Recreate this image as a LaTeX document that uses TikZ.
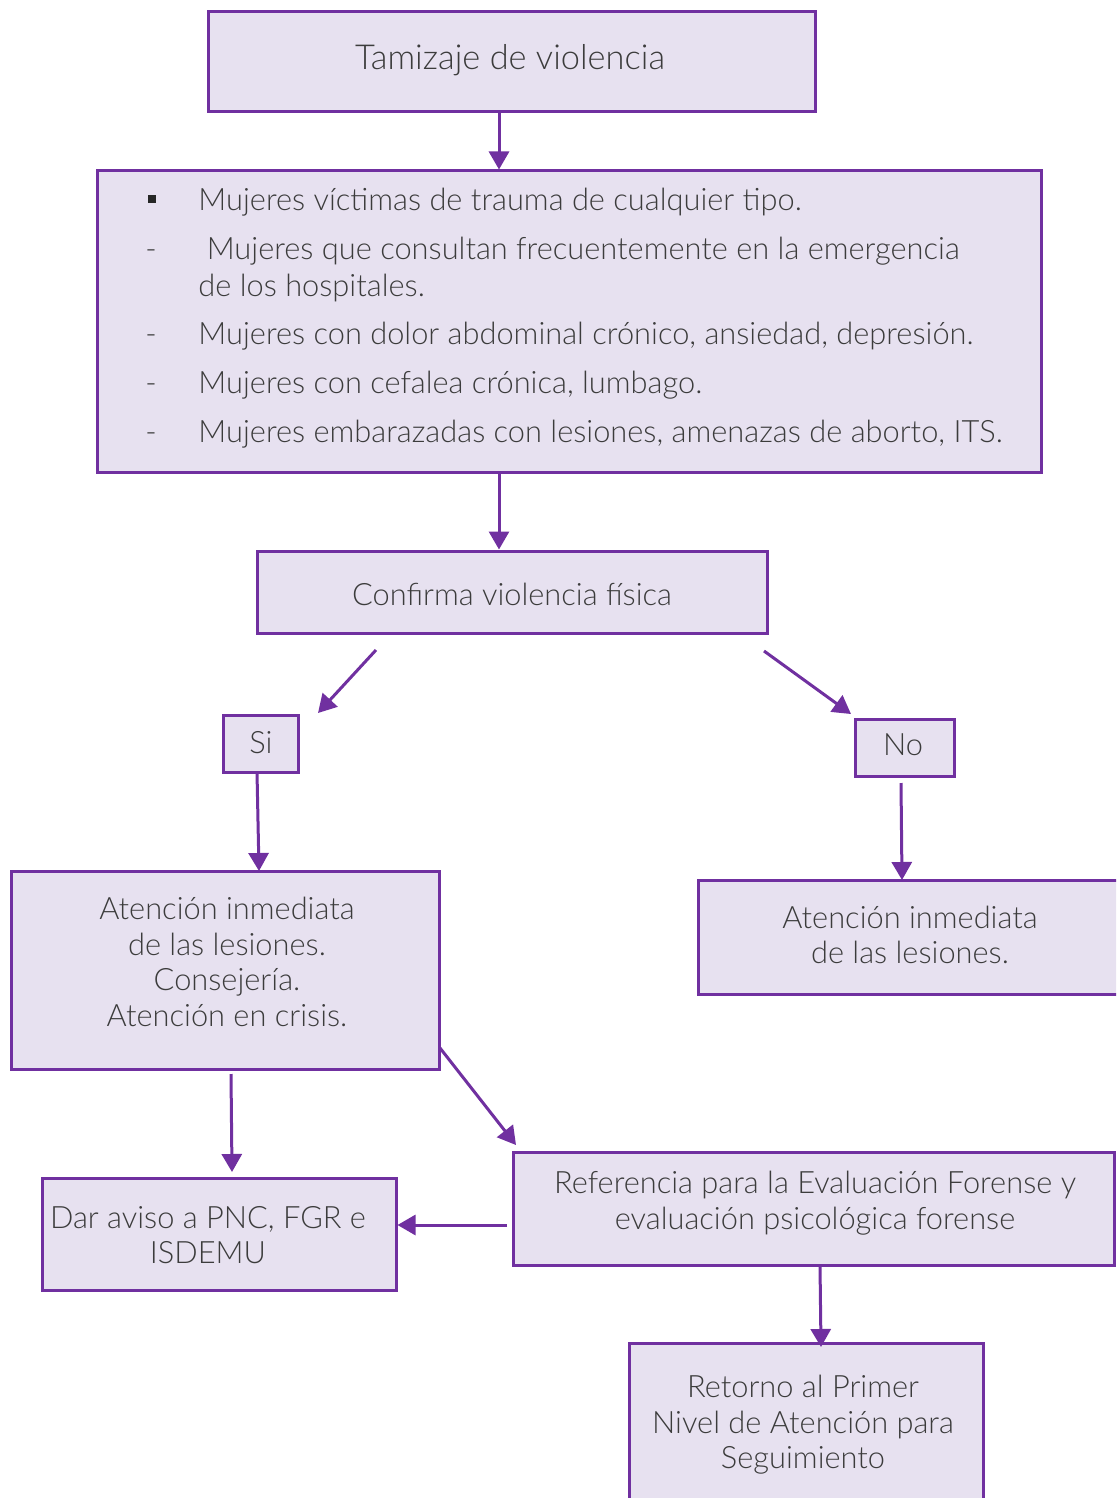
\documentclass[tikz,border=0pt]{standalone}
\usepackage{fontspec}
\setmainfont{Lato}[UprightFont={* Light}]
\usetikzlibrary{arrows.meta}
\definecolor{vio}{HTML}{7030A0}
\definecolor{lav}{HTML}{E7E1F0}
\definecolor{ink}{HTML}{3C3C3C}
\begin{document}
\begin{tikzpicture}[x=0.5pt,y=-0.5pt,
  box/.style={draw=vio, fill=lav, line width=1.5pt, inner sep=0pt},
  txt/.style={text=ink, font=\fontsize{15.4}{17.75}\selectfont, align=center, inner sep=0pt},
  big/.style={txt, font=\fontsize{17.2}{20}\selectfont},
  sq/.style={fill=black!85, inner sep=0pt, minimum size=4pt},
  arr/.style={draw=vio, line width=1.5pt, -{Triangle[length=9pt,width=10pt]}}]
\useasboundingbox (0,0) rectangle (1116,1498);
\clip (0,0) rectangle (1116,1498);

% boxes
\node[box, minimum width=303.5pt, minimum height=50pt] (tam) at (511.5,62) {};
\node[box, minimum width=472pt, minimum height=150.5pt] (list) at (569,321.5) {};
\node[box, minimum width=255pt, minimum height=41pt] (conf) at (512,592) {};
\node[box, minimum width=37.5pt, minimum height=28.5pt] (si) at (260.5,743.5) {};
\node[box, minimum width=49.5pt, minimum height=28.5pt] (no) at (904.5,747.5) {};
\node[box, minimum width=214pt, minimum height=99pt] (atL) at (225,970) {};
\node[box, minimum width=212pt, minimum height=57pt] (atR) at (910,937) {};
\node[box, minimum width=177pt, minimum height=56pt] (dar) at (219,1234) {};
\node[box, minimum width=300.5pt, minimum height=56.5pt] (ref) at (813.5,1208.5) {};
\node[box, minimum width=177pt, minimum height=85pt] (ret) at (806,1428) {};

% texts
\node[big, anchor=base] (tTam) at (510,70) {Tamizaje de violencia};
\node[sq] (b1) at (152,199) {};
\node[txt, anchor=base west] (l1) at (198,211) {Mujeres víctimas de trauma de cualquier tipo.};
\node[txt, anchor=base] (b2) at (151,260) {-};
\node[txt, anchor=base west] (l2) at (198,260) {\ Mujeres que consultan frecuentemente en la emergencia};
\node[txt, anchor=base west] (l2b) at (198,296) {de los hospitales.};
\node[txt, anchor=base] (b3) at (151,344) {-};
\node[txt, anchor=base west] (l3) at (198,344) {Mujeres con dolor abdominal crónico, ansiedad, depresión.};
\node[txt, anchor=base] (b4) at (151,393) {-};
\node[txt, anchor=base west] (l4) at (198,393) {Mujeres con cefalea crónica, lumbago.};
\node[txt, anchor=base] (b5) at (151,442) {-};
\node[txt, anchor=base west] (l5) at (198,442) {Mujeres embarazadas con lesiones, amenazas de aborto, ITS.};
\node[txt, anchor=base] (tConf) at (512,605) {Confirma violencia física};
\node[txt, anchor=base] (tSi) at (261,753) {Si};
\node[txt, anchor=base] (tNo) at (903,755) {No};
\node[txt, anchor=center] (tAtL) at (227,962) {Atención inmediata\\de las lesiones.\\Consejería.\\Atención en crisis.};
\node[txt, anchor=center] (tAtR) at (910,935) {Atención inmediata\\de las lesiones.};
\node[txt, anchor=center] (tDar) at (208,1235) {Dar aviso a PNC, FGR e\\ISDEMU};
\node[txt, anchor=center] (tRef) at (815,1203) {Referencia para la Evaluación Forense y\\evaluación psicológica forense};
\node[txt, anchor=center] (tRet) at (803,1425) {Retorno al Primer\\Nivel de Atención para\\Seguimiento};

% connector end points
\coordinate (cx) at (499,0);
\coordinate (s3) at (376,650);
\coordinate (e3) at (318,713);
\coordinate (s4) at (764,651);
\coordinate (e4) at (851,714);
\coordinate (s5) at (257,772);
\coordinate (e5) at (259,871);
\coordinate (s6) at (901,783);
\coordinate (e6) at (902,880);
\coordinate (s7) at (231,1074);
\coordinate (e7) at (232,1172);
\coordinate (s8) at (440,1048);
\coordinate (e8) at (516,1145);
\coordinate (s9) at (507,1225);
\coordinate (s10) at (820,1265);
\coordinate (e10) at (821,1347);

% connectors
\draw[arr] (cx |- tam.south) -- (cx |- list.north);
\draw[arr] (cx |- list.south) -- (cx |- conf.north);
\draw[arr] (s3) -- (e3);
\draw[arr] (s4) -- (e4);
\draw[arr] (s5) -- (e5);
\draw[arr] (s6) -- (e6);
\draw[arr] (s7) -- (e7);
\draw[arr] (s8) -- (e8);
\draw[arr] (s9) -- (s9 -| dar.east);
\draw[arr] (s10) -- (e10);
\end{tikzpicture}
\end{document}
